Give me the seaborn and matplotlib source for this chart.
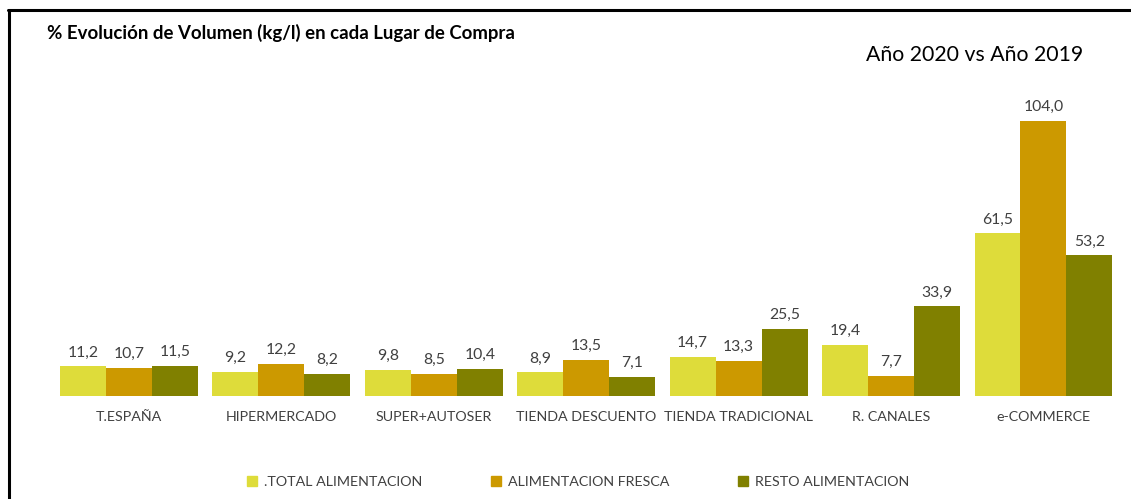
import matplotlib
matplotlib.use("Agg")
import matplotlib.pyplot as plt
import seaborn as sns
import pandas as pd
from matplotlib.lines import Line2D
from matplotlib.patches import Patch

categories = ["T.ESPAÑA", "HIPERMERCADO", "SUPER+AUTOSER", "TIENDA DESCUENTO",
              "TIENDA TRADICIONAL", "R. CANALES", "e-COMMERCE"]
series = [".TOTAL ALIMENTACION", "ALIMENTACION FRESCA", "RESTO ALIMENTACION"]
total = [11.2, 9.2, 9.8, 8.9, 14.7, 19.4, 61.5]
fresca = [10.7, 12.2, 8.5, 13.5, 13.3, 7.7, 104.0]
resto = [11.5, 8.2, 10.4, 7.1, 25.5, 33.9, 53.2]
colors = ["#DEDC3A", "#CC9900", "#808000"]

rows = []
for s, vals in zip(series, [total, fresca, resto]):
    for c, v in zip(categories, vals):
        rows.append({"cat": c, "serie": s, "val": v})
df = pd.DataFrame(rows)

sns.set_theme(style="white")
plt.rcParams["font.family"] = ["Lato", "DejaVu Sans"]

fig = plt.figure(figsize=(11.31, 4.99), dpi=100)
ax = fig.add_axes([0.0466, 0.2064, 0.9434, 0.7418])
sns.barplot(data=df, x="cat", y="val", hue="serie", order=categories,
            hue_order=series, palette=colors, width=0.905, gap=0,
            saturation=1, ax=ax, legend=False, linewidth=0)
ax.set_xlim(-0.5, 6.5)
ax.set_ylim(0, 140)
for cont in ax.containers:
    ax.bar_label(cont, labels=[f"{v:.1f}".replace(".", ",") for v in cont.datavalues],
                 padding=5, fontsize=11.3, color="#404040")
ax.set_xlabel("")
ax.set_ylabel("")
ax.set_yticks([])
ax.tick_params(axis="x", length=0, pad=11, labelsize=10.3, labelcolor="#404040")
for sp in ax.spines.values():
    sp.set_visible(False)

fig.text(47 / 1131, 1 - 33 / 499, "% Evolución de Volumen (kg/l) en cada Lugar de Compra",
         fontsize=13.4, fontweight="bold", color="#000000", va="center", ha="left")
fig.text(866 / 1131, 1 - 55 / 499, "Año 2020 vs Año 2019", fontsize=15.3,
         color="#000000", va="center", ha="left")

handles = [Patch(facecolor=c, edgecolor=c) for c in colors]
fig.legend(handles, series, loc="center", bbox_to_anchor=(578 / 1131, 1 - 482 / 499),
           ncol=3, frameon=False, fontsize=10.3, handlelength=0.7, handleheight=0.7,
           handletextpad=0.5, columnspacing=4.8, labelcolor="#404040")

fig.add_artist(Line2D([8 / 1131, 1.0], [1 - 10 / 499, 1 - 10 / 499], color="black", lw=2.2))
fig.add_artist(Line2D([9 / 1131, 9 / 1131], [1 - 10 / 499, 0], color="black", lw=2.2))

fig.savefig("out.png", dpi=100)
